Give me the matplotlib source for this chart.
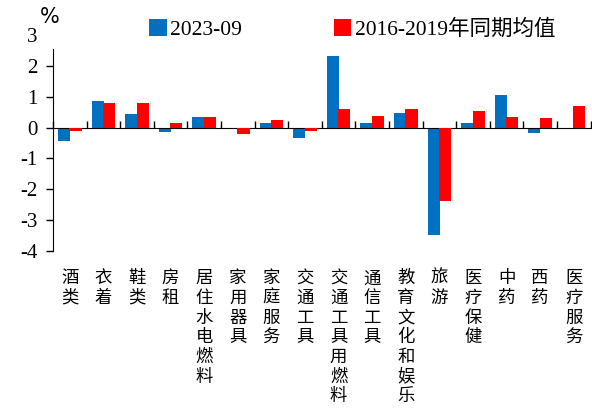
import numpy as np
import matplotlib.pyplot as plt

plt.rcParams['font.family'] = ['Liberation Serif', 'Noto Sans CJK SC']
plt.rcParams['axes.unicode_minus'] = False

categories = ['酒类', '衣着', '鞋类', '房租', '居住水电燃料', '家用器具', '家庭服务', '交通工具',
              '交通工具用燃料', '通信工具', '教育文化和娱乐', '旅游', '医疗保健', '中药', '西药', '医疗服务']
vals_2023 = [-0.45, 0.85, 0.45, -0.15, 0.35, 0.0, 0.15, -0.35,
             2.33, 0.16, 0.47, -3.47, 0.16, 1.04, -0.18, 0.0]
vals_avg = [-0.1, 0.8, 0.8, 0.15, 0.35, -0.2, 0.25, -0.1,
            0.6, 0.36, 0.6, -2.38, 0.54, 0.34, 0.3, 0.69]
yticks = [-4, -3, -2, -1, 0, 1, 2, 3]

fig = plt.figure(figsize=(5.92, 4.12), dpi=100)
ax = fig.add_axes([0.0895, 0.391, 0.908, 0.524])

x = np.arange(len(categories))
w = 0.36
ax.bar(x - 0.17, vals_2023, w, color='#0070C0', label='2023-09', zorder=2)
ax.bar(x + 0.17, vals_avg, w, color='#FF0000', label='2016-2019年同期均值', zorder=3)

ax.set_xlim(-0.5, len(categories) - 0.5)
ax.set_ylim(-4, 3)
ax.set_yticks(yticks)
ax.set_yticklabels([str(v) for v in yticks], fontsize=15)
ax.yaxis.get_major_ticks()[-1].tick1line.set_visible(False)
ax.tick_params(axis='y', direction='out', length=5, width=1, pad=6)

ax.spines['top'].set_visible(False)
ax.spines['right'].set_visible(False)
ax.spines['left'].set_bounds(-4, 2.55)
ax.spines['bottom'].set_position(('data', 0))

# category separators on the zero line, pointing up
ax.set_xticks(np.arange(len(categories) + 1) - 0.5)
ax.set_xticklabels([])
ax.tick_params(axis='x', direction='in', length=5, width=1)

# vertical category labels below the plot
for i, name in enumerate(categories):
    ax.text(i, -0.085, '\n'.join(name), transform=ax.get_xaxis_transform(),
            ha='center', va='top', fontsize=12.5, linespacing=1.12,
            family=['Noto Sans CJK SC'])

fig.text(0.068, 0.935, '%', fontsize=15, family='DejaVu Sans', ha='left', va='bottom')

fig.legend(loc='upper center', bbox_to_anchor=(0.595, 1.0), ncol=2, frameon=False,
           fontsize=15.5, handlelength=0.8, handleheight=0.8, handletextpad=0.15,
           columnspacing=4.3)

fig.savefig('out.png', dpi=100)
